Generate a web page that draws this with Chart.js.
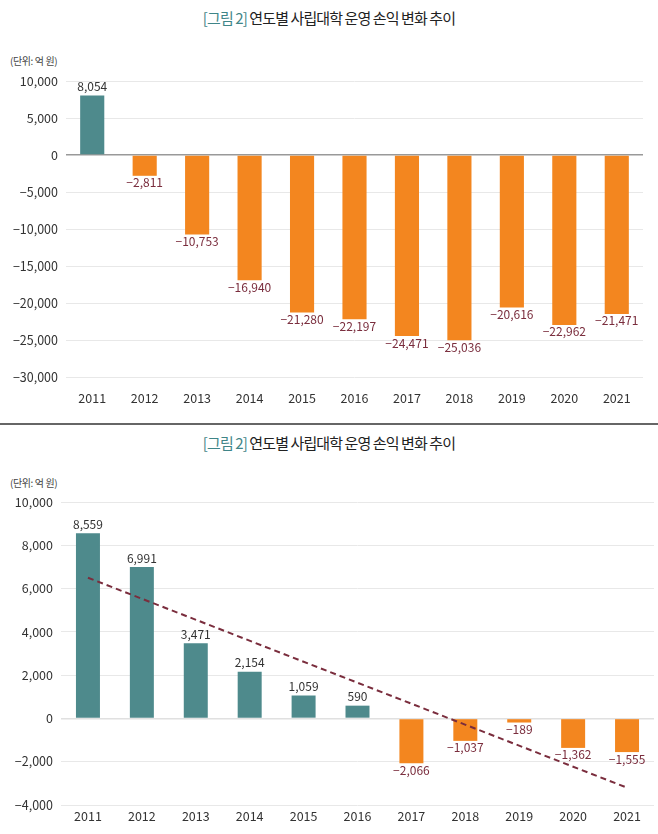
<!DOCTYPE html>
<html>
<head>
<meta charset="utf-8">
<script src="https://cdn.jsdelivr.net/npm/chart.js@4"></script>
<style>
  body { margin: 0; background: #fff; width: 658px; height: 834px; overflow: hidden; position: relative; font-family: "Noto Sans CJK KR", "Noto Sans", sans-serif; }
  .title { position: absolute; left: 0; width: 658px; text-align: center; font-size: 15px; letter-spacing: -0.9px; color: #222; }
  .title b { font-weight: normal; color: #3f8588; }
  .unit { position: absolute; left: 10px; font-size: 10px; letter-spacing: -0.4px; color: #444; }
  .sep { position: absolute; left: 0; width: 658px; top: 423px; height: 2px; background: #666; }
  canvas { position: absolute; left: 0; }
</style>
</head>
<body>
<div class="title" style="top:7px"><b>[그림 2]</b> 연도별 사립대학 운영 손익 변화 추이</div>
<div class="unit" style="top:53px">(단위: 억 원)</div>
<div style="position:absolute;left:0;top:0;width:658px;height:420px"><canvas id="chartTop"></canvas></div>
<div class="sep"></div>
<div class="title" style="top:432px"><b>[그림 2]</b> 연도별 사립대학 운영 손익 변화 추이</div>
<div class="unit" style="top:475px">(단위: 억 원)</div>
<div style="position:absolute;left:0;top:425px;width:658px;height:409px"><canvas id="chartBottom"></canvas></div>

<script>
const years = ['2011', '2012', '2013', '2014', '2015', '2016', '2017', '2018', '2019', '2020', '2021'];
// top chart values (억 원)
const topValues = [8054, -2811, -10753, -16940, -21280, -22197, -24471, -25036, -20616, -22962, -21471];
// bottom chart values (억 원)
const bottomValues = [8559, 6991, 3471, 2154, 1059, 590, -2066, -1037, -189, -1362, -1555];
// dashed trend line (start 2011, end 2021)
const trendValues = [6500, null, null, null, null, null, null, null, null, null, -3200];

const TEAL = '#4e8a8c';
const ORANGE = '#f3861f';
const MAROON = '#7a2d3d';
const FONT = '"Noto Sans CJK KR", "Noto Sans", sans-serif';

function fmt(v) {
    return (v < 0 ? '\u2212' : '') + Math.abs(v).toLocaleString('en-US');
}

// draws value labels above positive bars and below negative ones
const barLabels = {
    id: 'barLabels',
    afterDatasetsDraw(chart) {
        const ctx = chart.ctx;
        const meta = chart.getDatasetMeta(0);
        const vals = chart.data.datasets[0].data;
        ctx.save();
        ctx.font = '12px ' + FONT;
        ctx.textAlign = 'center';
        meta.data.forEach((bar, i) => {
            const v = vals[i];
            if (v >= 0) {
                ctx.fillStyle = '#333';
                ctx.textBaseline = 'bottom';
                ctx.fillText(fmt(v), bar.x, bar.y - 3);
            } else {
                ctx.fillStyle = MAROON;
                ctx.textBaseline = 'top';
                ctx.fillText(fmt(v), bar.x, bar.y + 1);
            }
        });
        ctx.restore();
    }
};

function makeChart(id, values, opts) {
    const datasets = [{
        type: 'bar',
        data: values,
        backgroundColor: values.map(v => v >= 0 ? TEAL : ORANGE),
        barPercentage: opts.barPct,
        categoryPercentage: 1,
        order: 1
    }];
    if (opts.trend) {
        datasets.push({
            type: 'line',
            data: opts.trend,
            spanGaps: true,
            borderColor: MAROON,
            borderWidth: 2,
            borderDash: [6, 4],
            pointRadius: 0,
            order: 0
        });
    }
    return new Chart(document.getElementById(id), {
        type: 'bar',
        data: { labels: years, datasets: datasets },
        options: {
            responsive: true,
            maintainAspectRatio: false,
            animation: false,
            layout: { padding: { top: opts.top, right: opts.right, bottom: 0, left: 0 } },
            plugins: { legend: { display: false }, tooltip: { enabled: false } },
            scales: {
                x: {
                    grid: { display: false, drawTicks: false },
                    border: { display: false },
                    ticks: { color: '#333', font: { family: FONT, size: 12.5 }, padding: opts.xPad },
                    afterFit: s => { s.height = opts.xHeight; }
                },
                y: {
                    min: opts.min,
                    max: opts.max,
                    ticks: {
                        stepSize: opts.step,
                        color: '#333',
                        font: { family: FONT, size: 12.5 },
                        padding: 8,
                        callback: v => fmt(v)
                    },
                    grid: {
                        drawTicks: false,
                        color: c => (c.tick && c.tick.value === 0) ? opts.zeroColor : '#e8e8e8',
                        lineWidth: c => (c.tick && c.tick.value === 0) ? 1.5 : 1
                    },
                    border: { display: false },
                    afterFit: s => { s.width = opts.yWidth; }
                }
            }
        },
        plugins: [barLabels]
    });
}

makeChart('chartTop', topValues, {
    barPct: 0.46, top: 81, right: 15, xHeight: 43, xPad: 14,
    min: -30000, max: 10000, step: 5000, yWidth: 66, zeroColor: '#999'
});

makeChart('chartBottom', bottomValues, {
    barPct: 0.445, top: 77, right: 4, xHeight: 29, xPad: 4,
    min: -4000, max: 10000, step: 2000, yWidth: 61, zeroColor: '#e0e0e0',
    trend: trendValues
});
</script>
</body>
</html>
